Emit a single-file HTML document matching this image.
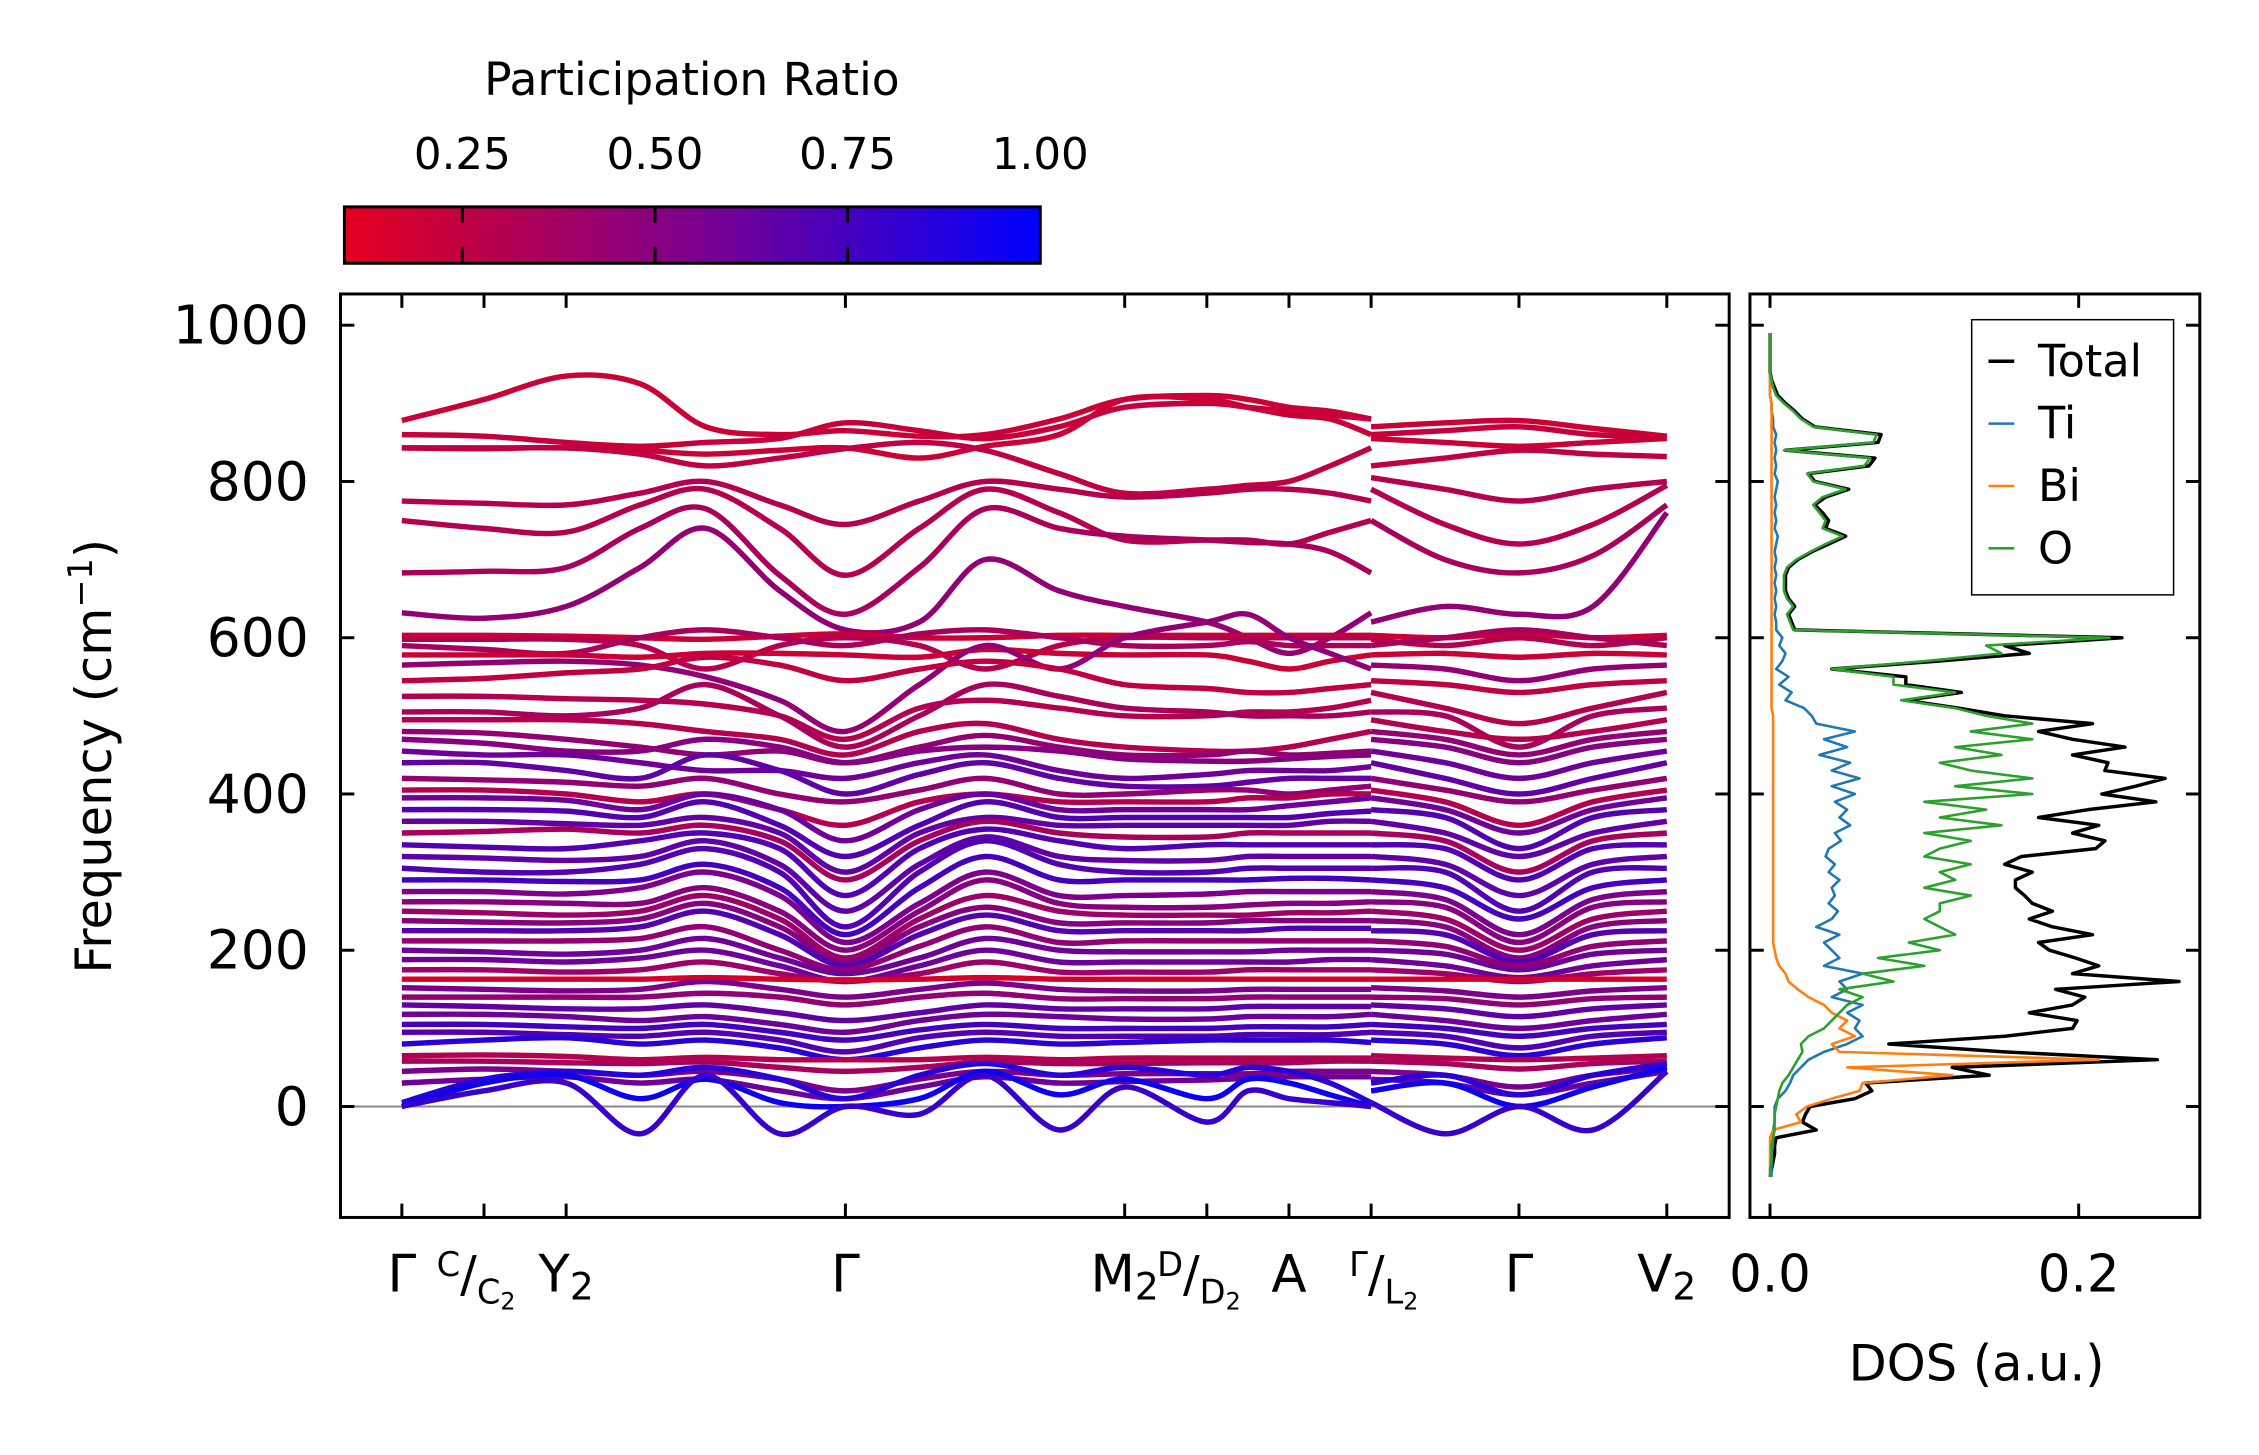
<!DOCTYPE html>
<html><head><meta charset="utf-8"><style>
html,body{margin:0;padding:0;background:#fff;}
svg{display:block;font-family:"DejaVu Sans","Liberation Sans",sans-serif;}
</style></head><body>
<svg id="chart" width="2259" height="1455" viewBox="0 0 2282 1470" preserveAspectRatio="xMinYMin meet" xmlns="http://www.w3.org/2000/svg">
<defs>
<linearGradient id="cmap" x1="0" x2="1" y1="0" y2="0">
<stop offset="0" stop-color="rgb(227,0,30)"/><stop offset="0.5" stop-color="rgb(125,0,140)"/><stop offset="1" stop-color="rgb(0,0,255)"/>
</linearGradient>
<clipPath id="bandclip"><rect x="344" y="297" width="1403" height="933"/></clipPath>
<clipPath id="dosclip"><rect x="1768" y="297" width="455" height="933"/></clipPath>
</defs>
<g id="colorbar">
<text x="699" y="96" font-size="46" text-anchor="middle">Participation Ratio</text>
<rect x="348" y="209" width="703" height="57" fill="url(#cmap)" stroke="#000" stroke-width="3"/>
</g>
<g id="bandaxes"></g>
<g id="dosaxes"></g>
<text transform="translate(112,764) rotate(-90)" font-size="50" text-anchor="middle">Frequency (cm<tspan baseline-shift="super" font-size="34">−1</tspan>)</text>
<text x="1997" y="1395" font-size="50" text-anchor="middle">DOS (a.u.)</text>
</svg>
<script>
const kNodes1 = [0,1,2,2.9,3.7,4.6,5.4,6.3,7.1,8.0,8.8,9.8,10.3,10.8,11.3,11.8];
const kNodes2 = [11.8,12.7,13.6,14.5,15.4];
const kTickPos = [0,1,2,5.4,8.8,9.8,10.8,11.8,13.6,15.4];
const yTicks = [0,200,400,600,800,1000];
const cbTicks = [0.25,0.5,0.75,1.0];
const cbTickLabels = ["0.25","0.50","0.75","1.00"];
const bands = [
[878,905,935,925,870,860,865,858,860,880,905,910,905,895,890,880,870,875,878,868,858],
[860,858,850,845,850,855,875,865,855,870,895,900,895,890,885,880,860,865,870,860,857],
[843,843,843,840,835,840,843,830,845,860,905,905,895,885,880,860,855,850,845,850,855],
[843,842,843,835,820,830,842,850,840,810,785,790,795,800,820,843,820,830,840,835,832],
[775,772,770,785,800,770,745,775,800,790,780,785,790,790,785,775,805,790,775,790,800],
[750,740,735,770,790,740,680,740,790,760,725,725,725,720,735,750,790,745,720,745,795],
[683,685,690,740,765,680,630,690,765,740,730,725,722,720,710,683,750,700,683,705,770],
[632,625,640,690,740,660,610,620,700,660,640,620,600,580,600,632,620,640,630,640,760],
[603,603,602,600,598,602,605,600,600,603,603,603,603,603,603,603,603,600,605,600,603],
[598,598,598,590,560,590,600,590,560,590,600,600,600,600,600,600,598,590,600,590,600],
[590,585,580,600,610,600,590,605,610,600,590,590,595,590,590,590,590,600,610,600,590],
[578,578,578,575,580,580,578,575,585,580,578,578,570,560,570,578,578,580,575,580,578],
[565,568,570,565,550,520,480,540,590,560,600,620,630,600,580,560,565,560,545,560,565],
[545,548,555,560,575,565,545,560,570,560,540,535,530,530,535,540,545,540,530,540,545],
[525,525,522,520,515,500,470,510,520,510,500,500,505,505,510,520,530,510,490,510,530],
[505,505,500,510,540,500,460,500,540,525,510,505,500,500,500,505,505,500,460,500,510],
[495,495,495,490,480,470,450,480,490,470,460,455,455,460,470,480,495,480,470,480,495],
[480,478,470,460,450,455,440,460,475,460,450,450,455,450,452,455,480,470,450,470,480],
[470,465,455,455,470,460,440,455,460,455,445,442,442,445,448,450,470,460,440,460,470],
[455,450,450,440,430,430,420,440,450,430,420,425,430,430,430,435,455,440,420,440,455],
[440,440,430,420,450,430,400,425,440,420,410,410,415,420,420,420,440,420,400,420,440],
[420,418,415,410,420,400,390,405,420,400,400,405,405,400,405,410,420,405,390,405,420],
[405,405,400,390,400,380,360,390,400,390,390,390,395,395,400,400,405,390,360,390,405],
[395,395,392,380,400,380,340,380,400,380,380,380,380,385,390,395,395,380,350,380,395],
[380,380,378,370,390,360,320,360,390,370,370,370,370,370,375,378,380,370,330,370,380],
[365,365,362,360,370,350,300,350,370,360,360,360,360,360,365,365,365,350,320,350,365],
[350,352,355,350,360,340,290,340,365,350,345,345,350,350,350,350,350,340,300,340,350],
[335,332,330,340,350,330,270,330,355,340,330,335,335,335,335,335,335,330,290,330,335],
[320,318,315,320,340,310,250,310,345,320,315,315,320,320,320,320,320,310,270,310,320],
[305,300,300,310,330,300,230,300,340,310,300,300,305,305,305,305,305,300,250,300,305],
[290,290,288,290,310,280,220,280,320,290,290,290,290,292,292,290,290,280,240,280,290],
[275,275,272,280,300,270,210,260,300,270,270,272,275,275,275,275,275,265,220,265,275],
[262,262,260,260,280,250,200,250,290,260,255,255,258,260,260,262,262,255,210,255,262],
[250,248,245,250,270,240,190,240,270,250,245,245,245,248,248,250,250,240,200,240,250],
[238,236,235,240,260,230,185,230,255,235,235,235,238,238,238,238,238,230,190,230,238],
[225,225,225,230,250,220,180,220,245,225,225,225,225,228,228,228,225,220,185,220,225],
[212,212,212,215,230,200,175,205,230,210,212,212,212,212,212,212,212,205,180,205,212],
[200,198,195,200,215,190,170,190,215,200,198,198,198,200,200,200,200,195,175,195,200],
[188,188,185,190,200,180,160,180,200,185,185,185,185,185,188,188,188,180,165,180,188],
[175,175,172,175,185,170,160,170,185,172,172,172,175,175,175,175,175,170,160,170,175],
[163,163,163,163,165,163,162,163,165,163,163,163,163,163,163,163,163,163,163,163,163],
[152,150,148,150,160,150,140,150,158,150,148,148,150,150,150,150,152,148,140,148,152],
[140,140,140,140,145,140,130,140,145,138,138,138,140,140,140,140,140,138,130,138,140],
[130,128,125,125,130,120,110,120,130,125,125,125,128,128,128,128,130,125,115,125,130],
[118,118,115,110,115,105,95,110,118,115,112,112,115,115,115,118,118,110,100,110,118],
[105,105,102,100,105,95,85,98,105,100,100,100,102,102,102,105,105,100,90,100,105],
[95,95,92,90,95,85,70,88,95,90,90,90,92,92,92,95,95,90,75,90,95],
[80,85,88,80,85,75,60,75,85,80,82,85,85,85,85,82,85,80,65,80,88],
[65,66,64,60,63,60,60,60,63,60,62,62,62,62,62,62,65,62,60,62,65],
[58,58,56,55,57,50,45,50,57,55,55,56,56,56,58,58,58,55,48,55,58],
[45,48,45,40,45,35,20,35,45,40,42,42,42,45,45,45,45,40,25,40,50],
[30,35,38,30,35,20,10,25,38,30,32,34,36,38,38,38,35,30,15,30,45],
[5,35,45,40,50,35,10,40,55,40,50,40,50,45,30,5,30,40,15,40,55],
[0,30,40,10,35,5,0,10,45,15,35,10,35,30,15,0,20,30,0,25,50],
[0,20,30,-35,40,-35,0,-10,40,-30,25,-20,20,10,5,0,5,-35,0,-30,45]
];
const bandPR = [0.2,0.22,0.2,0.25,0.3,0.3,0.35,0.45,0.2,0.3,0.35,0.2,0.45,0.25,0.3,0.35,0.3,0.45,0.5,0.6,0.65,0.45,0.3,0.6,0.7,0.65,0.35,0.7,0.65,0.7,0.75,0.55,0.5,0.4,0.5,0.7,0.45,0.6,0.6,0.4,0.15,0.55,0.45,0.65,0.6,0.75,0.7,0.85,0.3,0.35,0.55,0.6,0.85,0.95,0.8];

const dosFreq0 = -90, dosStep = 10;
const dosTotal = [0,.001,.002,.003,.003,.004,.030,.021,.023,.026,.055,.066,.062,.142,.118,.251,.152,.077,.152,.196,.199,.168,.196,.204,.185,.265,.196,.213,.198,.181,.174,.209,.183,.168,.183,.170,.165,.159,.159,.170,.152,.163,.211,.217,.196,.213,.174,.206,.250,.215,.237,.256,.217,.219,.196,.230,.196,.174,.209,.152,.122,.088,.124,.088,.088,.040,.109,.168,.152,.228,.016,.014,.012,.016,.012,.010,.010,.010,.012,.018,.027,.038,.049,.036,.038,.034,.029,.036,.051,.029,.025,.064,.068,.010,.070,.072,.029,.021,.016,.010,.005,.003,.001,0,0,0,0,0,0];
const dosTi = [.001,.001,.001,.001,.002,.002,.002,.003,.003,.003,.005,.010,.013,.015,.020,.025,.035,.050,.060,.055,.058,.050,.060,.040,.050,.045,.060,.035,.045,.040,.035,.045,.030,.040,.044,.038,.042,.040,.045,.038,.042,.036,.038,.046,.042,.052,.045,.050,.042,.055,.040,.058,.040,.052,.032,.050,.035,.055,.030,.027,.022,.010,.014,.006,.012,.004,.008,.010,.006,.008,.004,.004,.003,.004,.003,.004,.003,.004,.003,.004,.003,.004,.005,.003,.004,.003,.004,.003,.004,.005,.003,.004,.003,.004,.003,.004,.002,.002,.001,.001,0,0,0,0,0,0,0,0,0];
const dosBi = [0,0,0,0,0,0,.002,.020,.017,.024,.040,.058,.060,.118,.050,.213,.045,.040,.055,.045,.050,.040,.035,.025,.018,.012,.010,.006,.004,.003,.002,.002,.002,.002,.002,.002,.002,.002,.002,.002,.002,.002,.002,.002,.002,.002,.002,.002,.002,.002,.002,.002,.002,.002,.002,.002,.002,.002,.002,.002,.001,.001,.001,.001,.001,.001,.001,.001,.001,.001,.001,.001,.001,.001,.001,.001,.001,.001,.001,.001,.001,.001,.001,.001,.001,.001,.001,.001,.001,.001,.001,.001,.001,.001,.001,.001,.001,.001,.001,.001,0,0,0,0,0,0,0,0,0];
const dosO = [0,0,.001,.001,.001,.002,.003,.003,.003,.004,.005,.006,.008,.012,.015,.018,.021,.020,.025,.035,.040,.045,.050,.060,.045,.080,.060,.100,.070,.110,.090,.120,.110,.100,.110,.110,.130,.100,.120,.110,.130,.100,.110,.130,.100,.150,.110,.140,.100,.170,.120,.170,.130,.110,.150,.120,.170,.130,.170,.140,.120,.085,.120,.080,.080,.040,.100,.150,.140,.220,.015,.013,.011,.015,.011,.009,.009,.009,.011,.017,.026,.036,.047,.034,.036,.032,.028,.034,.049,.028,.024,.061,.065,.009,.067,.069,.028,.020,.015,.009,.004,.002,.001,0,0,0,0,0,0];
const dosXTicks = [0.0,0.2];
const dosXTickLabels = ["0.0","0.2"];
const legendNames = ["Total","Ti","Bi","O"];

const NS = "http://www.w3.org/2000/svg";
const svg = document.getElementById('chart');
const BL = 344, BR = 1747, T = 297, B = 1230;
const DL = 1768, DR = 2222.5;
const fMin = -142, fMax = 1040;
const yS = f => B - (f - fMin) / (fMax - fMin) * (B - T);
const x0 = 406, x1 = 1684;
const xS = k => x0 + k / 15.4 * (x1 - x0);
const dMin = -0.013, dMax = 0.2785;
const dS = v => DL + (v - dMin) / (dMax - dMin) * (DR - DL);
const prMin = 0.097, prMax = 1.0;
const cbL = 348, cbR = 1051;
const cbS = p => cbL + (p - prMin) / (prMax - prMin) * (cbR - cbL);
function prColor(p){
  const t = Math.max(0, Math.min(1, (p - prMin) / (prMax - prMin)));
  let r,g,b;
  if (t < 0.5){ const u=t/0.5; r=227+(125-227)*u; g=0; b=30+(140-30)*u; }
  else { const u=(t-0.5)/0.5; r=125*(1-u); g=0; b=140+(255-140)*u; }
  return `rgb(${r|0},${g|0},${b|0})`;
}
function mk(tag, attrs, parent){
  const e = document.createElementNS(NS, tag);
  for (const k in attrs) e.setAttribute(k, attrs[k]);
  (parent||svg).appendChild(e);
  return e;
}
function smoothPath(pts){
  let d = `M${pts[0][0].toFixed(1)},${pts[0][1].toFixed(1)}`;
  for (let i=0;i<pts.length-1;i++){
    const p0 = pts[Math.max(0,i-1)], p1 = pts[i], p2 = pts[i+1], p3 = pts[Math.min(pts.length-1,i+2)];
    const c1x = p1[0] + (p2[0]-p0[0])/6, c1y = p1[1] + (p2[1]-p0[1])/6;
    const c2x = p2[0] - (p3[0]-p1[0])/6, c2y = p2[1] - (p3[1]-p1[1])/6;
    d += ` C${c1x.toFixed(1)},${c1y.toFixed(1)} ${c2x.toFixed(1)},${c2y.toFixed(1)} ${p2[0].toFixed(1)},${p2[1].toFixed(1)}`;
  }
  return d;
}

const cbG = document.getElementById('colorbar');
cbTicks.forEach((p,i)=>{
  const x = cbS(p);
  if (p < prMax - 0.001){
    const t1 = mk('line',{x1:x,x2:x,y1:209,y2:225,stroke:'#000','stroke-width':3},cbG);
    
    
    const t2 = mk('line',{x1:x,x2:x,y1:250,y2:266,stroke:'#000','stroke-width':3},cbG);
    
    
  }
  const tl = mk('text',{x:x,y:171,'font-size':44,'text-anchor':'middle'},cbG);
  tl.textContent = cbTickLabels[i];
  
  
});

const bg = document.getElementById('bandaxes');
const zl = mk('line',{x1:BL,x2:BR,y1:yS(0),y2:yS(0),stroke:'#888','stroke-width':2},bg);


const bandsG = mk('g',{'clip-path':'url(#bandclip)'},bg);


bands.forEach((vals,bi)=>{
  const col = prColor(bandPR[bi]);
  const p1 = kNodes1.map((k,i)=>[xS(k), yS(vals[i])]);
  const p2 = kNodes2.map((k,i)=>[xS(k), yS(vals[kNodes1.length+i])]);
  [p1,p2].forEach((pts,si)=>{
    const path = mk('path',{d:smoothPath(pts),fill:'none',stroke:col,'stroke-width':5.5,'stroke-linecap':'butt'},bandsG);
    
    
  });
});
const bframe = mk('rect',{x:BL,y:T,width:BR-BL,height:B-T,fill:'none',stroke:'#000','stroke-width':3},bg);


yTicks.forEach(f=>{
  const y = yS(f);
  mk('line',{x1:BL,x2:BL+14,y1:y,y2:y,stroke:'#000','stroke-width':3},bg);
  mk('line',{x1:BR-14,x2:BR,y1:y,y2:y,stroke:'#000','stroke-width':3},bg);
  const t = mk('text',{x:312,y:y,'font-size':54,'text-anchor':'end','dominant-baseline':'central'},bg);
  t.textContent = String(f);
  
  
});
kTickPos.forEach(k=>{
  const x = xS(k);
  mk('line',{x1:x,x2:x,y1:B-14,y2:B,stroke:'#000','stroke-width':3},bg);
  mk('line',{x1:x,x2:x,y1:T,y2:T+14,stroke:'#000','stroke-width':3},bg);
});
const kl = [[0,'Γ'],[2,'Y2'],[5.4,'Γ'],[8.8,'M2'],[10.8,'A'],[13.6,'Γ'],[15.4,'V2']];
kl.forEach(([k,lab])=>{
  const t = mk('text',{x:xS(k),y:1305,'font-size':52,'text-anchor':'middle'},bg);
  
  
  if (lab.endsWith('2')){
    t.textContent = lab[0];
    const s = mk('tspan',{'font-size':38,dy:8},t); s.textContent='2';
  } else t.textContent = lab;
});
function fracLabel(k, sup, sub){
  const x = xS(k);
  const t = mk('text',{x:x-8,y:1305,'font-size':50,'text-anchor':'middle'},bg);
  
  
  const a = mk('tspan',{'font-size':34,dy:-16},t); a.textContent = sup;
  const b = mk('tspan',{'font-size':50,dy:16},t); b.textContent = '/';
  const c = mk('tspan',{'font-size':34,dy:12},t); c.textContent = sub;
  const d = mk('tspan',{'font-size':24,dy:6},t); d.textContent = '2';
}
fracLabel(1,'C','C'); fracLabel(9.8,'D','D'); fracLabel(11.8+0.25,'Γ','L');

const dg = document.getElementById('dosaxes');
const dosG = mk('g',{'clip-path':'url(#dosclip)'},dg);


const series = [[dosTotal,'#000','dos-total'],[dosTi,'#1f77b4','dos-ti'],[dosBi,'#ff7f0e','dos-bi'],[dosO,'#2ca02c','dos-o']];
series.forEach(([arr,col,name])=>{
  const d = arr.map((v,i)=>`${i?'L':'M'}${dS(v).toFixed(1)},${yS(dosFreq0+i*dosStep).toFixed(1)}`).join(' ');
  const p = mk('path',{d:d,fill:'none',stroke:col,'stroke-width':name==='dos-total'?3.5:2.6,'stroke-linejoin':'round'},dosG);
  
  
});
const dframe = mk('rect',{x:DL,y:T,width:DR-DL,height:B-T,fill:'none',stroke:'#000','stroke-width':3},dg);


yTicks.forEach(f=>{
  const y = yS(f);
  mk('line',{x1:DL,x2:DL+14,y1:y,y2:y,stroke:'#000','stroke-width':3},dg);
  mk('line',{x1:DR-14,x2:DR,y1:y,y2:y,stroke:'#000','stroke-width':3},dg);
});
dosXTicks.forEach((v,i)=>{
  const x = dS(v);
  mk('line',{x1:x,x2:x,y1:B-14,y2:B,stroke:'#000','stroke-width':3},dg);
  mk('line',{x1:x,x2:x,y1:T,y2:T+14,stroke:'#000','stroke-width':3},dg);
  const t = mk('text',{x:x,y:1305,'font-size':52,'text-anchor':'middle'},dg);
  t.textContent = dosXTickLabels[i];
  
  
});
const lg = mk('g',{},dg);


mk('rect',{x:1992,y:323,width:204,height:278,fill:'#fff',stroke:'#000','stroke-width':1.5},lg);
const legCols = ['#000','#1f77b4','#ff7f0e','#2ca02c'];
legendNames.forEach((n,i)=>{
  const y = 365 + i*63;
  const ln = mk('line',{x1:2009,x2:2035,y1:y,y2:y,stroke:legCols[i],'stroke-width':i?2.6:3.5},lg);
  
  
  const t = mk('text',{x:2059,y:y,'font-size':45,'dominant-baseline':'central'},lg);
  t.textContent = n;
  
  
});
</script>
</body></html>
